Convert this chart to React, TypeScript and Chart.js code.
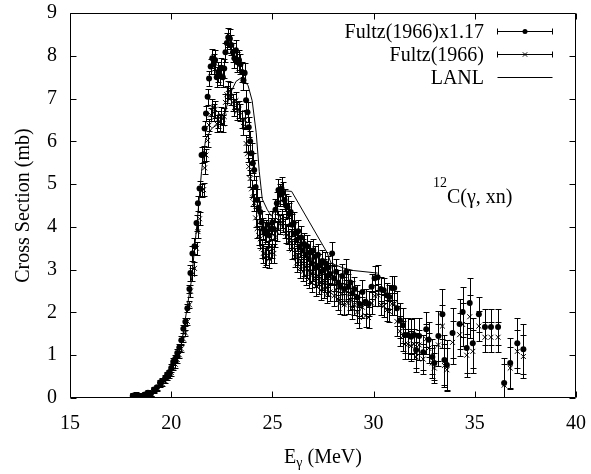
import React, { useEffect, useRef } from 'react';
import { Chart, registerables } from 'chart.js';

Chart.register(...registerables);

const SERIF = "'Liberation Serif', 'Times New Roman', serif";

// Photon energy (MeV) for the Fultz (1966) data
const ENERGY = [
  18.10, 18.25, 18.40, 18.55, 18.70, 18.85, 19.00, 19.15, 19.30, 19.45,
  19.55, 19.70, 19.80, 19.90, 20.00, 20.10, 20.20, 20.30, 20.40, 20.50,
  20.60, 20.70, 20.80, 20.90, 20.95, 21.05, 21.15, 21.25, 21.32, 21.40,
  21.50, 21.60, 21.65, 21.72, 21.80, 21.87, 21.95, 22.03, 22.10, 22.17,
  22.25, 22.32, 22.40, 22.47, 22.55, 22.62, 22.68, 22.75, 22.82, 22.90,
  22.97, 23.05, 23.12, 23.20, 23.27, 23.35, 23.42, 23.50, 23.57, 23.63,
  23.70, 23.77, 23.83, 23.90, 23.97, 24.03, 24.10, 24.17, 24.25, 24.32,
  24.40, 24.47, 24.55, 24.62, 24.70, 24.77, 24.85, 24.92, 25.00, 25.07,
  25.15, 25.22, 25.30, 25.37, 25.45, 25.52, 25.60, 25.67, 25.75, 25.82,
  25.90, 25.97, 26.05, 26.12, 26.20, 26.27, 26.35, 26.42, 26.50, 26.57,
  26.65, 26.72, 26.80, 26.87, 26.95, 27.02, 27.10, 27.17, 27.25, 27.32,
  27.40, 27.47, 27.55, 27.62, 27.70, 27.77, 27.85, 27.95, 28.05, 28.15,
  28.25, 28.35, 28.45, 28.55, 28.65, 28.75, 28.85, 28.95, 29.05, 29.20,
  29.30, 29.45, 29.60, 29.75, 29.90, 30.05, 30.20, 30.35, 30.50, 30.65,
  30.78, 30.90, 31.02, 31.15, 31.30, 31.45, 31.55, 31.70, 31.85, 32.00,
  32.10, 32.25, 32.45, 32.60, 32.72, 32.90, 33.00, 33.20, 33.40, 33.50,
  33.62, 33.90, 34.25, 34.40, 34.60, 34.75, 34.90, 35.20, 35.50, 35.80,
  36.15, 36.45, 36.75, 37.10, 37.40,
];

// Fultz(1966) x 1.17 (filled circles)
const FULTZ_SCALED = [
  0.05, 0.07, 0.05, 0.03, 0.08, 0.12, 0.10, 0.20, 0.25, 0.36,
  0.40, 0.47, 0.55, 0.60, 0.70, 0.85, 0.92, 1.05, 1.18, 1.35,
  1.62, 1.78, 2.10, 2.55, 2.92, 3.38, 3.55, 4.09, 4.55, 4.90,
  5.68, 5.70, 6.30, 6.65, 7.04, 7.47, 7.75, 7.94, 7.80, 7.90,
  7.50, 7.62, 7.55, 7.72, 7.50, 7.70, 8.08, 8.30, 8.43, 8.40,
  8.25, 8.08, 7.94, 8.13, 7.85, 7.90, 7.80, 7.62, 7.43, 7.60,
  6.96, 6.68, 6.33, 6.00, 5.72, 5.49, 5.33, 4.93, 4.63, 4.45,
  4.35, 4.10, 3.95, 3.85, 3.90, 4.05, 3.80, 3.95, 4.10, 3.95,
  4.40, 4.55, 4.86, 4.75, 4.90, 4.79, 4.63, 4.50, 4.46, 4.30,
  4.35, 4.05, 4.09, 3.85, 3.70, 3.90, 3.55, 3.75, 3.45, 3.60,
  3.35, 3.55, 3.25, 3.40, 3.15, 3.45, 3.30, 3.05, 3.35, 3.10,
  2.95, 3.20, 3.00, 3.15, 2.85, 3.05, 2.90, 3.38, 2.80, 2.95,
  2.70, 2.60, 2.85, 2.55, 2.95, 2.60, 2.70, 2.45, 2.55, 2.35,
  2.20, 2.48, 2.25, 2.20, 2.60, 2.80, 2.82, 2.55, 2.52, 2.40,
  2.36, 2.57, 2.57, 2.10, 1.82, 1.70, 1.47, 1.47, 1.43, 1.47,
  1.12, 1.45, 1.07, 1.61, 1.36, 0.96, 0.82, 1.45, 1.96, 0.89,
  0.77, 1.52, 1.73, 2.01, 1.17, 2.22, 1.28, 1.96, 1.66, 1.66,
  1.66, 0.35, 0.82, 1.28, 1.14,
];

const FULTZ_SCALED_ERR = [
  0.06, 0.06, 0.06, 0.06, 0.06, 0.06, 0.06, 0.06, 0.06, 0.06,
  0.06, 0.06, 0.06, 0.06, 0.09, 0.09, 0.09, 0.09, 0.09, 0.09,
  0.09, 0.09, 0.09, 0.09, 0.18, 0.18, 0.18, 0.18, 0.18, 0.18,
  0.18, 0.18, 0.18, 0.18, 0.18, 0.18, 0.18, 0.23, 0.23, 0.23,
  0.23, 0.23, 0.23, 0.23, 0.23, 0.23, 0.23, 0.23, 0.23, 0.23,
  0.23, 0.23, 0.23, 0.23, 0.23, 0.23, 0.23, 0.23, 0.23, 0.23,
  0.23, 0.23, 0.23, 0.23, 0.23, 0.23, 0.23, 0.26, 0.26, 0.26,
  0.26, 0.26, 0.26, 0.26, 0.26, 0.26, 0.26, 0.26, 0.26, 0.26,
  0.26, 0.26, 0.26, 0.26, 0.26, 0.26, 0.26, 0.26, 0.26, 0.26,
  0.26, 0.26, 0.26, 0.26, 0.26, 0.26, 0.26, 0.26, 0.26, 0.26,
  0.26, 0.26, 0.26, 0.26, 0.26, 0.26, 0.26, 0.26, 0.26, 0.26,
  0.26, 0.26, 0.26, 0.26, 0.26, 0.26, 0.26, 0.26, 0.29, 0.29,
  0.29, 0.29, 0.29, 0.29, 0.29, 0.29, 0.29, 0.29, 0.29, 0.29,
  0.29, 0.29, 0.29, 0.29, 0.29, 0.29, 0.29, 0.29, 0.29, 0.29,
  0.29, 0.29, 0.29, 0.41, 0.41, 0.41, 0.41, 0.41, 0.41, 0.41,
  0.41, 0.41, 0.41, 0.41, 0.41, 0.41, 0.41, 0.59, 0.59, 0.59,
  0.59, 0.59, 0.59, 0.59, 0.59, 0.59, 0.59, 0.41, 0.41, 0.41,
  0.41, 0.59, 0.59, 0.59, 0.59,
];

// Fultz(1966) (crosses)
const FULTZ = [
  0.04, 0.06, 0.04, 0.03, 0.07, 0.10, 0.09, 0.17, 0.21, 0.31,
  0.34, 0.40, 0.47, 0.51, 0.60, 0.73, 0.79, 0.90, 1.01, 1.15,
  1.38, 1.52, 1.79, 2.18, 2.50, 2.89, 3.03, 3.50, 3.89, 4.19,
  4.85, 4.87, 5.38, 5.68, 6.02, 6.38, 6.62, 6.79, 6.67, 6.75,
  6.41, 6.51, 6.45, 6.60, 6.41, 6.58, 6.91, 7.09, 7.21, 7.18,
  7.05, 6.91, 6.79, 6.95, 6.71, 6.75, 6.67, 6.51, 6.35, 6.50,
  5.95, 5.71, 5.41, 5.13, 4.89, 4.69, 4.56, 4.21, 3.96, 3.80,
  3.72, 3.50, 3.38, 3.29, 3.33, 3.46, 3.25, 3.38, 3.50, 3.38,
  3.76, 3.89, 4.15, 4.06, 4.19, 4.09, 3.96, 3.85, 3.81, 3.68,
  3.72, 3.46, 3.50, 3.29, 3.16, 3.33, 3.03, 3.21, 2.95, 3.08,
  2.86, 3.03, 2.78, 2.91, 2.69, 2.95, 2.82, 2.61, 2.86, 2.65,
  2.52, 2.74, 2.56, 2.69, 2.44, 2.61, 2.48, 2.89, 2.39, 2.52,
  2.31, 2.22, 2.44, 2.18, 2.52, 2.22, 2.31, 2.09, 2.18, 2.01,
  1.88, 2.12, 1.92, 1.88, 2.22, 2.39, 2.41, 2.18, 2.15, 2.05,
  2.02, 2.20, 2.20, 1.79, 1.56, 1.45, 1.26, 1.26, 1.22, 1.26,
  0.96, 1.24, 0.91, 1.38, 1.16, 0.82, 0.70, 1.24, 1.68, 0.76,
  0.66, 1.30, 1.48, 1.72, 1.00, 1.90, 1.09, 1.68, 1.42, 1.42,
  1.42, 0.30, 0.70, 1.09, 0.97,
];

const FULTZ_ERR = [
  0.05, 0.05, 0.05, 0.05, 0.05, 0.05, 0.05, 0.05, 0.05, 0.05,
  0.05, 0.05, 0.05, 0.05, 0.08, 0.08, 0.08, 0.08, 0.08, 0.08,
  0.08, 0.08, 0.08, 0.08, 0.15, 0.15, 0.15, 0.15, 0.15, 0.15,
  0.15, 0.15, 0.15, 0.15, 0.15, 0.15, 0.15, 0.20, 0.20, 0.20,
  0.20, 0.20, 0.20, 0.20, 0.20, 0.20, 0.20, 0.20, 0.20, 0.20,
  0.20, 0.20, 0.20, 0.20, 0.20, 0.20, 0.20, 0.20, 0.20, 0.20,
  0.20, 0.20, 0.20, 0.20, 0.20, 0.20, 0.20, 0.22, 0.22, 0.22,
  0.22, 0.22, 0.22, 0.22, 0.22, 0.22, 0.22, 0.22, 0.22, 0.22,
  0.22, 0.22, 0.22, 0.22, 0.22, 0.22, 0.22, 0.22, 0.22, 0.22,
  0.22, 0.22, 0.22, 0.22, 0.22, 0.22, 0.22, 0.22, 0.22, 0.22,
  0.22, 0.22, 0.22, 0.22, 0.22, 0.22, 0.22, 0.22, 0.22, 0.22,
  0.22, 0.22, 0.22, 0.22, 0.22, 0.22, 0.22, 0.22, 0.25, 0.25,
  0.25, 0.25, 0.25, 0.25, 0.25, 0.25, 0.25, 0.25, 0.25, 0.25,
  0.25, 0.25, 0.25, 0.25, 0.25, 0.25, 0.25, 0.25, 0.25, 0.25,
  0.25, 0.25, 0.25, 0.35, 0.35, 0.35, 0.35, 0.35, 0.35, 0.35,
  0.35, 0.35, 0.35, 0.35, 0.35, 0.35, 0.35, 0.50, 0.50, 0.50,
  0.50, 0.50, 0.50, 0.50, 0.50, 0.50, 0.50, 0.35, 0.35, 0.35,
  0.35, 0.50, 0.50, 0.50, 0.50,
];

// LANL evaluation (solid line)
const LANL_ENERGY = [
  18.0, 18.5, 19.0, 19.5, 20.0, 20.5, 21.0, 21.3, 21.5, 21.7,
  22.0, 22.3, 22.6, 22.9, 23.2, 23.5, 23.8, 24.0, 24.2, 24.35,
  24.5, 24.75, 24.95, 25.15, 25.4, 25.95, 27.7, 27.9, 28.5, 29.0,
  30.2,
];
const LANL_XS = [
  0.0, 0.03, 0.12, 0.32, 0.62, 1.25, 2.75, 4.2, 5.3, 6.05,
  6.3, 6.4, 6.55, 7.1, 7.4, 7.5, 7.3, 6.95, 6.2, 5.3,
  4.65, 4.4, 4.25, 4.4, 4.85, 4.83, 3.4, 3.15, 3.04, 2.98,
  2.92,
];

const X_TICKS = [15, 20, 25, 30, 35, 40];
const Y_TICKS = [0, 1, 2, 3, 4, 5, 6, 7, 8, 9];
const LEGEND_LABELS = ['Fultz(1966)x1.17', 'Fultz(1966)', 'LANL'];
const Y_TITLE = 'Cross Section (mb)';
const X_TITLE_MAIN = 'E';
const X_TITLE_SUB = 'γ';
const X_TITLE_REST = ' (MeV)';
const REACTION_SUP = '12';
const REACTION_MAIN = 'C(γ, xn)';

const errorBarPlugin = {
  id: 'errorBars',
  beforeDatasetsDraw(chart: any) {
    const { ctx, chartArea, scales } = chart;
    const x = scales.x;
    const y = scales.y;
    ctx.save();
    ctx.beginPath();
    ctx.rect(chartArea.left, chartArea.top, chartArea.right - chartArea.left, chartArea.bottom - chartArea.top);
    ctx.clip();
    ctx.strokeStyle = '#000';
    ctx.lineWidth = 1;
    chart.data.datasets.forEach((ds: any) => {
      const errs = ds.errors;
      if (!errs) return;
      ds.data.forEach((p: any, i: number) => {
        const px = Math.round(x.getPixelForValue(p.x)) + 0.5;
        const y1 = Math.round(y.getPixelForValue(p.y - errs[i])) + 0.5;
        const y2 = Math.round(y.getPixelForValue(p.y + errs[i])) + 0.5;
        ctx.beginPath();
        ctx.moveTo(px, y1);
        ctx.lineTo(px, y2);
        ctx.moveTo(px - 3, y1);
        ctx.lineTo(px + 3, y1);
        ctx.moveTo(px - 3, y2);
        ctx.lineTo(px + 3, y2);
        ctx.stroke();
      });
    });
    ctx.restore();
  },
};

const decorPlugin = {
  id: 'decor',
  afterDraw(chart: any) {
    const { ctx, chartArea, scales } = chart;
    const x = scales.x;
    const y = scales.y;
    const L = Math.round(chartArea.left) + 0.5;
    const R = Math.round(chartArea.right) - 0.5;
    const T = Math.round(chartArea.top) + 0.5;
    const B = Math.round(chartArea.bottom) - 0.5;
    ctx.save();
    ctx.strokeStyle = '#000';
    ctx.lineWidth = 1;
    ctx.beginPath();
    ctx.rect(L, T, R - L, B - T);
    ctx.stroke();
    const tl = 6;
    ctx.beginPath();
    X_TICKS.forEach((v) => {
      const px = Math.round(x.getPixelForValue(v)) + 0.5;
      ctx.moveTo(px, B);
      ctx.lineTo(px, B - tl);
      ctx.moveTo(px, T);
      ctx.lineTo(px, T + tl);
    });
    Y_TICKS.forEach((v) => {
      const py = Math.round(y.getPixelForValue(v)) + 0.5;
      ctx.moveTo(L, py);
      ctx.lineTo(L + tl, py);
      ctx.moveTo(R, py);
      ctx.lineTo(R - tl, py);
    });
    ctx.stroke();

    // Legend (gnuplot style, top right)
    ctx.fillStyle = '#000';
    ctx.font = `20px ${SERIF}`;
    ctx.textAlign = 'right';
    ctx.textBaseline = 'alphabetic';
    const textRight = 484;
    const s0 = 497.5;
    const s1 = 552.5;
    const sc = (s0 + s1) / 2;
    const rows = [31, 54, 77];
    LEGEND_LABELS.forEach((label, i) => {
      const cy = rows[i] + 0.5;
      ctx.fillText(label, textRight, rows[i] + 7);
      ctx.beginPath();
      ctx.moveTo(s0, cy);
      ctx.lineTo(s1, cy);
      if (i < 2) {
        ctx.moveTo(s0, cy - 3);
        ctx.lineTo(s0, cy + 3);
        ctx.moveTo(s1, cy - 3);
        ctx.lineTo(s1, cy + 3);
      }
      ctx.stroke();
      if (i === 0) {
        ctx.beginPath();
        ctx.arc(sc, cy, 2.5, 0, Math.PI * 2);
        ctx.fill();
      } else if (i === 1) {
        ctx.beginPath();
        ctx.moveTo(sc - 2.2, cy - 2.2);
        ctx.lineTo(sc + 2.2, cy + 2.2);
        ctx.moveTo(sc - 2.2, cy + 2.2);
        ctx.lineTo(sc + 2.2, cy - 2.2);
        ctx.stroke();
      }
    });

    // Reaction label
    ctx.textAlign = 'left';
    ctx.font = `14px ${SERIF}`;
    ctx.fillText(REACTION_SUP, 433, 187);
    const supW = ctx.measureText(REACTION_SUP).width;
    ctx.font = `20px ${SERIF}`;
    ctx.fillText(REACTION_MAIN, 433 + supW, 203);

    // X axis title with subscript
    ctx.font = `20px ${SERIF}`;
    const wE = ctx.measureText(X_TITLE_MAIN).width;
    const wRest = ctx.measureText(X_TITLE_REST).width;
    ctx.font = `14px ${SERIF}`;
    const wSub = ctx.measureText(X_TITLE_SUB).width;
    const total = wE + wSub + wRest;
    const cx = (chartArea.left + chartArea.right) / 2;
    let tx = cx - total / 2;
    const base = 463;
    ctx.font = `20px ${SERIF}`;
    ctx.fillText(X_TITLE_MAIN, tx, base);
    tx += wE;
    ctx.font = `14px ${SERIF}`;
    ctx.fillText(X_TITLE_SUB, tx, base + 4);
    tx += wSub;
    ctx.font = `20px ${SERIF}`;
    ctx.fillText(X_TITLE_REST, tx, base);
    ctx.restore();
  },
};

export default function App() {
  const ref = useRef<HTMLCanvasElement>(null);
  useEffect(() => {
    document.body.style.margin = '0';
    const canvas = ref.current;
    if (!canvas) return;
    const chart = new Chart(canvas, {
      type: 'scatter',
      data: {
        datasets: [
          {
            label: LEGEND_LABELS[0],
            data: ENERGY.map((e, i) => ({ x: e, y: FULTZ_SCALED[i] })),
            errors: FULTZ_SCALED_ERR,
            pointStyle: 'circle',
            pointRadius: 3,
            backgroundColor: '#000',
            borderColor: '#000',
            borderWidth: 0,
            showLine: false,
            order: 2,
          } as any,
          {
            label: LEGEND_LABELS[1],
            data: ENERGY.map((e, i) => ({ x: e, y: FULTZ[i] })),
            errors: FULTZ_ERR,
            pointStyle: 'crossRot',
            pointRadius: 3.5,
            backgroundColor: '#000',
            borderColor: '#000',
            borderWidth: 1,
            showLine: false,
            order: 1,
          } as any,
          {
            label: LEGEND_LABELS[2],
            data: LANL_ENERGY.map((e, i) => ({ x: e, y: LANL_XS[i] })),
            showLine: true,
            pointRadius: 0,
            borderColor: '#000',
            borderWidth: 1,
            tension: 0,
            order: 0,
          },
        ],
      },
      options: {
        animation: false,
        responsive: false,
        devicePixelRatio: 1,
        layout: { padding: { top: 13, right: 15, left: 0, bottom: 0 } },
        plugins: {
          legend: { display: false },
          tooltip: { enabled: false },
        },
        scales: {
          x: {
            type: 'linear',
            min: 15,
            max: 40,
            afterBuildTicks: (scale: any) => {
              scale.ticks = X_TICKS.map((v) => ({ value: v }));
            },
            afterFit: (scale: any) => {
              scale.height = 76;
              scale.paddingLeft = 0;
              scale.paddingRight = 0;
            },
            grid: { display: false, drawTicks: false },
            border: { display: false },
            ticks: {
              color: '#000',
              padding: 14,
              maxRotation: 0,
              autoSkip: false,
              font: { family: SERIF, size: 20 },
            },
          },
          y: {
            type: 'linear',
            min: 0,
            max: 9,
            afterBuildTicks: (scale: any) => {
              scale.ticks = Y_TICKS.map((v) => ({ value: v }));
            },
            afterFit: (scale: any) => {
              scale.width = 70;
              scale.paddingTop = 0;
              scale.paddingBottom = 0;
            },
            grid: { display: false, drawTicks: false },
            border: { display: false },
            ticks: {
              color: '#000',
              padding: 13,
              autoSkip: false,
              font: { family: SERIF, size: 20 },
            },
            title: {
              display: true,
              text: Y_TITLE,
              color: '#000',
              padding: { top: 12, bottom: 0 },
              font: { family: SERIF, size: 20 },
            },
          },
        },
      },
      plugins: [errorBarPlugin, decorPlugin],
    } as any);
    let alive = true;
    if ((document as any).fonts && (document as any).fonts.load) {
      (document as any).fonts
        .load(`20px ${SERIF}`)
        .then(() => {
          if (alive) chart.update();
        })
        .catch(() => {});
    }
    return () => {
      alive = false;
      chart.destroy();
    };
  }, []);
  return (
    <canvas
      ref={ref}
      width={591}
      height={474}
      style={{ display: 'block', width: 591, height: 474 }}
    />
  );
}
